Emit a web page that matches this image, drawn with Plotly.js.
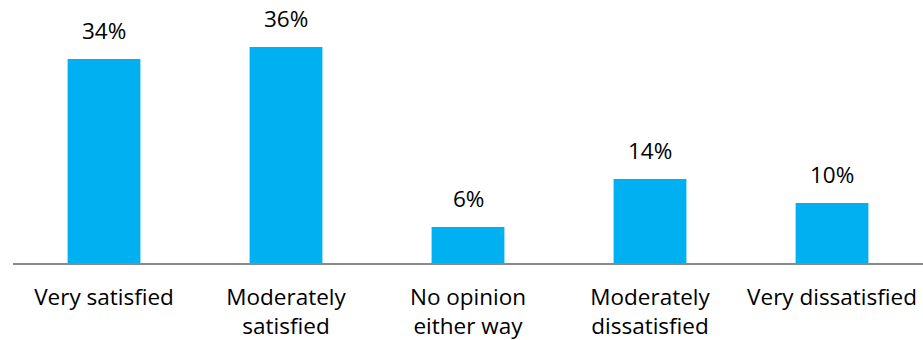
<!DOCTYPE html>
<html>
<head>
<meta charset="utf-8">
<script src="https://cdn.plot.ly/plotly-3.0.1.min.js"></script>
<style>html,body{margin:0;padding:0;background:#fff;}#chart{width:923px;height:340px;}</style>
</head>
<body>
<div id="chart"></div>
<script>
const categories = ["Very satisfied", "Moderately<br>satisfied", "No opinion<br>either way", "Moderately<br>dissatisfied", "Very dissatisfied"];
const values = [34, 36, 6, 14, 10];
const valueLabels = values.map(v => v + "%");

const font = {family: "Open Sans, Noto Sans, sans-serif", size: 22.5, color: "#000000"};

const trace = {
  type: "bar",
  x: categories,
  y: values,
  marker: {color: "#00B0F0"},
  hoverinfo: "none"
};

const annotations = categories.map((c, i) => ({
  x: c, y: values[i], xref: "x", yref: "y",
  text: valueLabels[i], showarrow: false,
  yanchor: "bottom", yshift: 11,
  font: font
}));

const layout = {
  width: 923, height: 340,
  margin: {l: 13, r: 0, t: 23, b: 77},
  paper_bgcolor: "#ffffff", plot_bgcolor: "#ffffff",
  bargap: 0.6,
  showlegend: false,
  font: font,
  xaxis: {
    type: "category",
    showline: true, linecolor: "#898989", linewidth: 2,
    ticks: "", showgrid: false, zeroline: false,
    tickfont: font,
    ticklabelstandoff: 13
  },
  yaxis: {
    range: [0, 40], visible: false, showgrid: false, zeroline: false
  },
  annotations: annotations
};

Plotly.newPlot("chart", [trace], layout, {staticPlot: true});
</script>
</body>
</html>
